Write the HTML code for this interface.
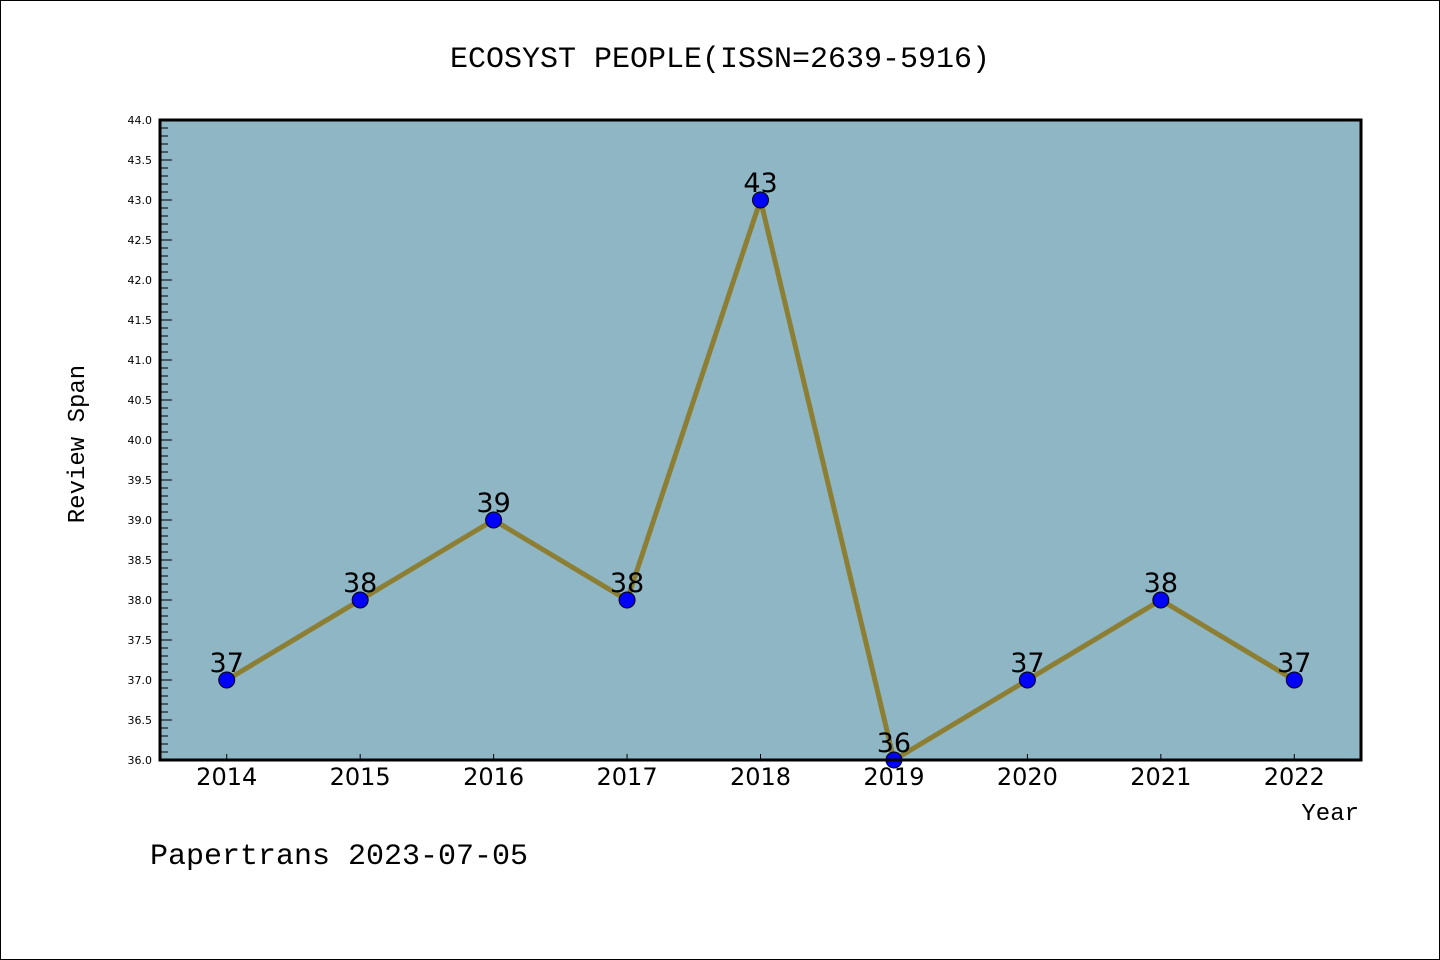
<!DOCTYPE html>
<html><head><meta charset="utf-8"><style>
html,body{margin:0;padding:0;background:#fff}
svg{display:block;font-family:"Liberation Mono","DejaVu Sans Mono",monospace}
</style></head><body>
<svg id="chart" width="1440" height="960" xmlns="http://www.w3.org/2000/svg">
<rect x="0.5" y="0.5" width="1439" height="959" fill="#fff" stroke="#000" stroke-width="1"/>
<text x="720" y="67" text-anchor="middle" font-size="30">ECOSYST PEOPLE(ISSN=2639-5916)</text>
<rect x="160" y="120" width="1201" height="640" fill="#8fb6c5"/>
<g id="yticks"></g>
<g id="xticks"></g>
<g id="series"></g>
<rect x="160" y="120" width="1201" height="640" fill="none" stroke="#000" stroke-width="3"/>
<text transform="translate(84,444) rotate(-90)" text-anchor="middle" font-size="24">Review Span</text>
<text x="1359" y="820" text-anchor="end" font-size="24">Year</text>
<text x="150" y="864" font-size="30">Papertrans 2023-07-05</text>
</svg>
<script>
const categories = ["2014","2015","2016","2017","2018","2019","2020","2021","2022"];
const values = [37,38,39,38,43,36,37,38,37];
const yMin = 36, yMax = 44;
const yTickLabels = ["36.0","36.5","37.0","37.5","38.0","38.5","39.0","39.5","40.0","40.5","41.0","41.5","42.0","42.5","43.0","43.5","44.0"];

const NS = "http://www.w3.org/2000/svg";
const L = 160, R = 1361, T = 120, B = 760;
const step = (R - L) / categories.length;
function xScale(i){ return L + (i + 0.5) * step; }
function yScale(v){ return B - (v - yMin) / (yMax - yMin) * (B - T); }
function mk(tag, attrs, parent){ const e = document.createElementNS(NS, tag); for (const k in attrs) e.setAttribute(k, attrs[k]); parent.appendChild(e); return e; }

const yg = document.getElementById("yticks");
for (let k = 0; k <= 80; k++) {
  const v = yMin + k * 0.1;
  const y = yScale(v);
  const major = k % 5 === 0;
  const t = mk("line", {x1: L, x2: L + (major ? 12 : 8), y1: y, y2: y, stroke: "#000", "stroke-width": 1}, yg);
  
  
}
yTickLabels.forEach(function(lbl){
  const y = yScale(parseFloat(lbl));
  const tx = mk("text", {x: 152, y: y + 4, "text-anchor": "end", "font-size": 11, "font-family": "DejaVu Sans, sans-serif"}, yg);
  tx.textContent = lbl;
  
  
});

const xg = document.getElementById("xticks");
categories.forEach(function(c, i){
  const x = xScale(i);
  const t = mk("line", {x1: x, x2: x, y1: B, y2: B - 6, stroke: "#000", "stroke-width": 1}, xg);
  
  
  const tx = mk("text", {x: x, y: 785, "text-anchor": "middle", "font-size": 24, "font-family": "DejaVu Sans, sans-serif"}, xg);
  tx.textContent = c;
  
  
});

const sg = document.getElementById("series");
const pts = values.map(function(v, i){ return xScale(i) + "," + yScale(v); }).join(" ");
const line = mk("polyline", {points: pts, fill: "none", stroke: "#8c7f33", "stroke-width": 5, "stroke-linejoin": "miter"}, sg);


values.forEach(function(v, i){
  const c = mk("circle", {cx: xScale(i), cy: yScale(v), r: 8, fill: "#0000ff", stroke: "#000", "stroke-width": 1}, sg);
  
  
  const tx = mk("text", {x: xScale(i), y: yScale(v) - 8, "text-anchor": "middle", "font-size": 27, "font-family": "DejaVu Sans, sans-serif"}, sg);
  tx.textContent = String(v);
  
  
});
</script>
</body></html>
